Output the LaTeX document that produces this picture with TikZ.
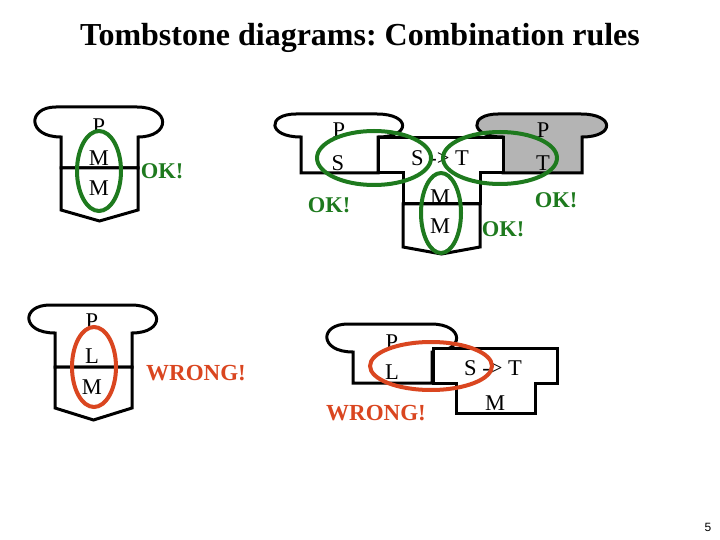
\documentclass[tikz,border=0pt]{standalone}
\usepackage{fontspec}
\setmainfont{Liberation Serif}
\newfontfamily\pagefont{Liberation Sans}
\frenchspacing
\definecolor{okgreen}{RGB}{30,122,30}
\definecolor{wrongred}{RGB}{218,70,32}
\definecolor{tombgray}{RGB}{180,180,180}
\newcommand{\tombprog}[6][]{%
  \draw[tomb,#1] (#2,#6) -- (#2,#5) .. controls (#2-34,#5) and (#2-34,#4) .. (#2-5,#4)
    -- (#3-1,#4) .. controls (#3+33,#4) and (#3+33,#5) .. (#3,#5) -- (#3,#6) -- cycle;}
\newcommand{\tombmach}[5]{%
  \draw[tomb] (#1,#3) -- (#1,#4) -- ({(#1+#2)/2},#5) -- (#2,#4) -- (#2,#3) -- cycle;}
\begin{document}
\begin{tikzpicture}[x=1pt,y=-1pt,
  tomb/.style={draw=black,line width=3pt,line join=miter,fill=white},
  lbl/.style={inner sep=0pt,font=\fontsize{22.5}{27}\selectfont},
  okl/.style={inner sep=0pt,text=okgreen,font=\fontsize{22.5}{27}\selectfont\bfseries},
  wrongl/.style={inner sep=0pt,text=wrongred,font=\fontsize{23}{27}\selectfont\bfseries},
  greenring/.style={draw=okgreen,line width=4pt},
  redring/.style={draw=wrongred,line width=4pt}]
\useasboundingbox (0,0) rectangle (720,540);
\fill[white] (0,0) rectangle (720,540);
% title
\node[inner sep=0pt,font=\fontsize{32}{38}\selectfont\bfseries] (title) at (360,37.5) {Tombstone diagrams: Combination rules};
% ---------- figure 1 ----------
\tombprog{61}{138}{107}{137}{168}
\tombmach{61}{138}{168}{210}{221}
\node[lbl] (a1) at (99,126) {P};
\node[lbl] (a2) at (99,158) {M};
\node[lbl] (a3) at (99,188) {M};
\draw[greenring] (99,171) ellipse [x radius=22pt, y radius=40pt];
\node[okl] (ok1) at (162,171) {OK!};
% ---------- figure 2 ----------
\tombprog{301}{378}{114}{137}{173}
\tombprog[fill=tombgray]{503}{582}{114}{137}{173}
\draw[tomb] (378,138) -- (503,138) -- (503,173) -- (480,173) -- (480,204)
  -- (403,204) -- (403,173) -- (378,173) -- cycle;
\tombmach{403}{480}{204}{247}{254}
\node[lbl] (b1) at (339,130) {P};
\node[lbl] (b2) at (338,163) {S};
\node[lbl] (b3) at (440,158) {S -> T};
\node[lbl] (b4) at (440,197) {M};
\node[lbl] (b5) at (440,226) {M};
\node[lbl] (b6) at (543,130) {P};
\node[lbl] (b7) at (543,163) {T};
\draw[greenring] (374,158) ellipse [x radius=57pt, y radius=27pt];
\draw[greenring] (500,158) ellipse [x radius=57pt, y radius=26pt];
\draw[greenring] (441,213) ellipse [x radius=20pt, y radius=40pt];
\node[okl] (ok2) at (329,205) {OK!};
\node[okl] (ok3) at (556,200) {OK!};
\node[okl] (ok4) at (503,229) {OK!};
% ---------- figure 3 ----------
\tombprog{55}{132}{305}{333}{367}
\tombmach{55}{132}{367}{408}{420}
\node[lbl] (c1) at (92,321) {P};
\node[lbl] (c2) at (92,356) {L};
\node[lbl] (c3) at (92,387) {M};
\draw[redring] (94,367) ellipse [x radius=22pt, y radius=40pt];
\node[wrongl] (w1) at (196,373) {WRONG!};
% ---------- figure 4 ----------
\tombprog{353}{432}{324}{352}{383}
\draw[tomb] (433,348) -- (557,348) -- (557,383) -- (535,383) -- (535,413)
  -- (456,413) -- (456,383) -- (433,383) -- cycle;
\node[lbl] (d1) at (392,342) {P};
\node[lbl] (d2) at (392,372) {L};
\node[lbl] (d3) at (493,368) {S -> T};
\node[lbl] (d4) at (495,403) {M};
\draw[redring] (431,366) ellipse [x radius=61pt, y radius=24pt];
\node[wrongl] (w2) at (376,413) {WRONG!};
% page number
\node[inner sep=0pt,font=\pagefont\fontsize{12}{14}\selectfont] (pg) at (708,527) {5};
\end{tikzpicture}
\end{document}
